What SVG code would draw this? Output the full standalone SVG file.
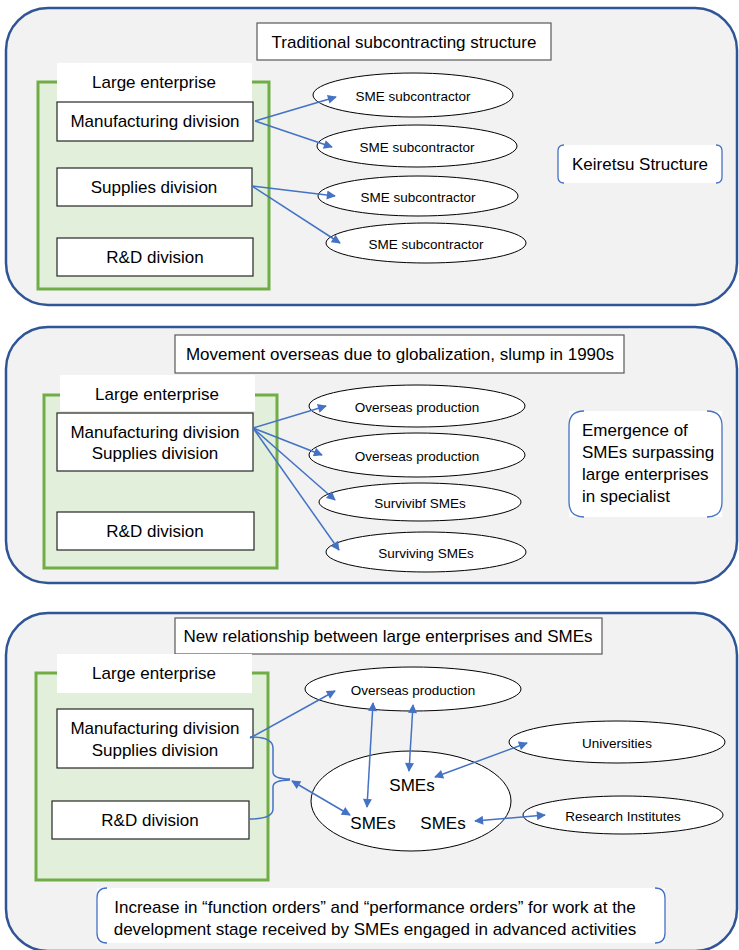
<svg xmlns="http://www.w3.org/2000/svg" width="739" height="950" viewBox="0 0 739 950">
<style>
.panel{fill:#f2f2f2;stroke:#2f5597;stroke-width:2.5}
.title{fill:#fff;stroke:#595959;stroke-width:1.2}
.green{fill:#e2efda;stroke:#70ad47;stroke-width:3}
.lbl{fill:#fff;stroke:none}
.box{fill:#fff;stroke:#262626;stroke-width:1.2}
.ell{fill:#fff;stroke:#000;stroke-width:1}
.brk{fill:none;stroke:#4472c4;stroke-width:1.3}
.t{font-family:"Liberation Sans",Arial,sans-serif;font-size:17px;fill:#000;text-anchor:middle;dominant-baseline:central}
.s{font-family:"Liberation Sans",Arial,sans-serif;font-size:13.5px;fill:#000;text-anchor:middle;dominant-baseline:central}
.l{text-anchor:start}
.c{fill:none;stroke:#4472c4;stroke-width:1.5}
</style>
<defs>
<marker id="ah" viewBox="0 0 10 10" refX="9" refY="5" markerWidth="11" markerHeight="9" markerUnits="userSpaceOnUse" orient="auto-start-reverse">
<path d="M0,0 L10,5 L0,10 z" fill="#4472c4"/>
</marker>
</defs>

<!-- Panel 1 -->
<g id="panel1">
<rect class="panel" x="6" y="8" width="731" height="297" rx="42"/>
</g>
<g id="title1"><rect class="title" x="257" y="23" width="294" height="37"/><text class="t" x="404" y="42">Traditional subcontracting structure</text></g>
<g id="le1">
<rect class="green" x="38" y="82" width="231" height="207"/>
<rect class="lbl" x="57" y="63" width="195" height="39"/>
<text class="t" x="154" y="82">Large enterprise</text>
</g>
<g id="mfg1"><rect class="box" x="57" y="102" width="196" height="39"/><text class="t" x="155" y="121">Manufacturing division</text></g>
<g id="sup1"><rect class="box" x="57" y="168" width="195" height="38"/><text class="t" x="154" y="187">Supplies division</text></g>
<g id="rd1"><rect class="box" x="57" y="238" width="196" height="38"/><text class="t" x="155" y="257">R&amp;D division</text></g>
<g id="sme1"><ellipse class="ell" cx="413" cy="95" rx="100" ry="22"/><text class="s" x="413" y="96">SME subcontractor</text></g>
<g id="sme2"><ellipse class="ell" cx="417" cy="146" rx="100" ry="21"/><text class="s" x="417" y="147">SME subcontractor</text></g>
<g id="sme3"><ellipse class="ell" cx="418" cy="196" rx="100" ry="20"/><text class="s" x="418" y="197">SME subcontractor</text></g>
<g id="sme4"><ellipse class="ell" cx="426" cy="243" rx="100" ry="20"/><text class="s" x="426" y="244">SME subcontractor</text></g>
<g id="keiretsu">
<rect x="558" y="145" width="164" height="38" fill="#fff"/>
<path class="brk" d="M564,145 Q558,145 558,151 L558,177 Q558,183 564,183 M716,145 Q722,145 722,151 L722,177 Q722,183 716,183"/>
<text class="t" x="640" y="164">Keiretsu Structure</text>
</g>

<!-- Panel 2 -->
<g id="panel2"><rect class="panel" x="6" y="327" width="731" height="256" rx="42"/></g>
<g id="title2"><rect class="title" x="175" y="335" width="449" height="38"/><text class="t" x="400" y="354">Movement overseas due to globalization, slump in 1990s</text></g>
<g id="le2">
<rect class="green" x="44" y="395" width="233" height="173"/>
<rect class="lbl" x="60" y="375" width="195" height="36"/>
<text class="t" x="157" y="394">Large enterprise</text>
</g>
<g id="mfg2"><rect class="box" x="57" y="413" width="196" height="58"/><text class="t" x="155" y="432">Manufacturing division</text><text class="t" x="155" y="453">Supplies division</text></g>
<g id="rd2"><rect class="box" x="57" y="512" width="197" height="38"/><text class="t" x="155" y="531">R&amp;D division</text></g>
<g id="ov1"><ellipse class="ell" cx="417" cy="406" rx="108" ry="21"/><text class="s" x="417" y="407">Overseas production</text></g>
<g id="ov2"><ellipse class="ell" cx="417" cy="455" rx="108" ry="22"/><text class="s" x="417" y="456">Overseas production</text></g>
<g id="surv1"><ellipse class="ell" cx="420" cy="502" rx="101" ry="19"/><text class="s" x="420" y="503">Survivibf SMEs</text></g>
<g id="surv2"><ellipse class="ell" cx="426" cy="552" rx="100" ry="20"/><text class="s" x="426" y="553">Surviving SMEs</text></g>
<g id="emergence">
<rect x="569" y="411" width="153" height="106" fill="#fff"/>
<path class="brk" d="M584,411 Q569,411 569,426 L569,502 Q569,517 584,517 M707,411 Q722,411 722,426 L722,502 Q722,517 707,517"/>
<text class="t l" x="582" y="430">Emergence of</text>
<text class="t l" x="582" y="452">SMEs surpassing</text>
<text class="t l" x="582" y="474">large enterprises</text>
<text class="t l" x="582" y="496">in specialist</text>
</g>

<!-- Panel 3 -->
<g id="panel3"><rect class="panel" x="6" y="613" width="731" height="338" rx="42"/></g>
<g id="title3"><rect class="title" x="175" y="618" width="427" height="36"/><text class="t" x="388" y="636">New relationship between large enterprises and SMEs</text></g>
<g id="le3">
<rect class="green" x="36" y="673" width="232" height="207"/>
<rect class="lbl" x="57" y="654" width="195" height="39"/>
<text class="t" x="154" y="673">Large enterprise</text>
</g>
<g id="mfg3"><rect class="box" x="57" y="709" width="196" height="59"/><text class="t" x="155" y="728">Manufacturing division</text><text class="t" x="155" y="750">Supplies division</text></g>
<g id="rd3"><rect class="box" x="52" y="801" width="197" height="38"/><text class="t" x="150" y="820">R&amp;D division</text></g>
<g id="ov3"><ellipse class="ell" cx="413" cy="689" rx="108" ry="22"/><text class="s" x="413" y="690">Overseas production</text></g>
<g id="smes">
<ellipse class="ell" cx="411" cy="801" rx="100" ry="50"/>
<text class="t" x="412" y="785">SMEs</text>
<text class="t" x="373" y="823">SMEs</text>
<text class="t" x="443" y="823">SMEs</text>
</g>
<g id="univ"><ellipse class="ell" cx="617" cy="742" rx="108" ry="21"/><text class="s" x="617" y="743">Universities</text></g>
<g id="research"><ellipse class="ell" cx="623" cy="815" rx="100" ry="19"/><text class="s" x="623" y="816">Research Institutes</text></g>
<g id="increase">
<rect x="97" y="888" width="568" height="55" fill="#fff"/>
<path class="brk" d="M107,888 Q97,888 97,898 L97,933 Q97,943 107,943 M655,888 Q665,888 665,898 L665,933 Q665,943 655,943"/>
<text class="t" x="375" y="907" font-size="16.3">Increase in “function orders” and “performance orders” for work at the</text>
<text class="t" x="375" y="929" font-size="16.3">development stage received by SMEs engaged in advanced activities</text>
</g>

<!-- Connectors -->
<g id="connectors">
<line class="c" x1="255" y1="121" x2="336" y2="97" marker-end="url(#ah)"/>
<line class="c" x1="255" y1="121" x2="332" y2="147" marker-end="url(#ah)"/>
<line class="c" x1="252" y1="186" x2="335" y2="196" marker-end="url(#ah)"/>
<line class="c" x1="252" y1="186" x2="340" y2="243" marker-end="url(#ah)"/>

<line class="c" x1="253" y1="428" x2="326" y2="406" marker-end="url(#ah)"/>
<line class="c" x1="253" y1="428" x2="322" y2="455" marker-end="url(#ah)"/>
<line class="c" x1="253" y1="428" x2="335" y2="500" marker-end="url(#ah)"/>
<line class="c" x1="253" y1="428" x2="339" y2="550" marker-end="url(#ah)"/>

<line class="c" x1="250" y1="738" x2="335" y2="691" marker-end="url(#ah)"/>
<path class="c" stroke-width="1.2" d="M250,737 Q273,737 273,748 L273,772 Q273,779 290,779 M249,819 Q273,819 273,809 L273,787 Q273,780 290,780"/>
<line class="c" x1="292" y1="781" x2="350" y2="815" marker-start="url(#ah)" marker-end="url(#ah)"/>
<line class="c" x1="373" y1="703" x2="367" y2="807" marker-start="url(#ah)" marker-end="url(#ah)"/>
<line class="c" x1="413" y1="705" x2="409" y2="771" marker-start="url(#ah)" marker-end="url(#ah)"/>
<line class="c" x1="435" y1="777" x2="527" y2="743" marker-start="url(#ah)" marker-end="url(#ah)"/>
<line class="c" x1="475" y1="821" x2="545" y2="815" marker-start="url(#ah)" marker-end="url(#ah)"/>
</g>
</svg>
